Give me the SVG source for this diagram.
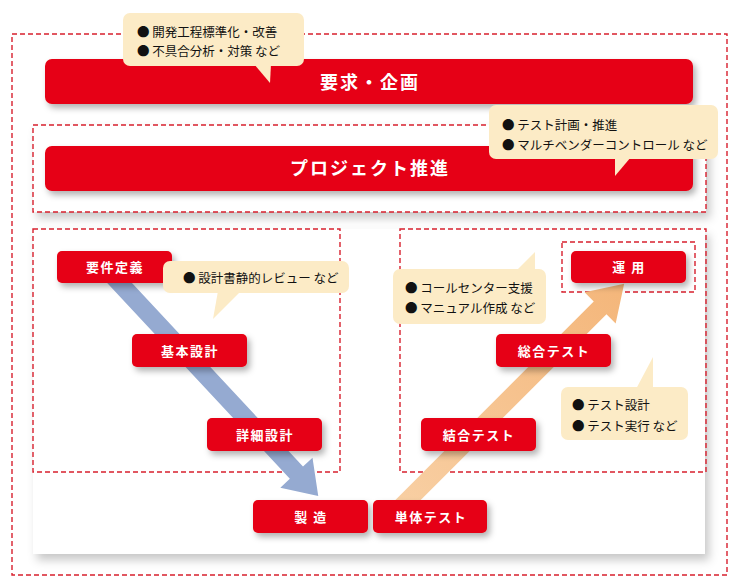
<svg xmlns="http://www.w3.org/2000/svg" width="740" height="586" viewBox="0 0 740 586">
<defs>
<style>
.dash{fill:none;stroke:#d7202e;stroke-width:1.4;stroke-dasharray:5 3}
.bar{fill:#e60012}
.node{fill:#e60012}
.bt{fill:#fff;font-family:"Noto Sans CJK JP","Noto Sans",sans-serif;font-weight:700;font-size:18px;letter-spacing:2px;text-anchor:middle}
.nt{fill:#fff;font-family:"Noto Sans CJK JP","Noto Sans",sans-serif;font-weight:700;font-size:13px;letter-spacing:1.5px;text-anchor:middle}
.call{fill:#fcebc6}
.ct{fill:#111;font-family:"Noto Sans CJK JP","Noto Sans",sans-serif;font-size:12.5px}
</style>
<filter id="sh" x="-20%" y="-30%" width="140%" height="180%">
<feDropShadow dx="3" dy="4" stdDeviation="3" flood-color="#000" flood-opacity="0.3"/>
</filter>
<filter id="psh" x="-10%" y="-20%" width="130%" height="150%">
<feDropShadow dx="4" dy="6" stdDeviation="5" flood-color="#000" flood-opacity="0.22"/>
</filter>
<linearGradient id="og" x1="0" y1="0" x2="1" y2="0">
<stop offset="0" stop-color="#f8cfa3"/>
<stop offset="1" stop-color="#f4b67a"/>
</linearGradient>
</defs>
<rect width="740" height="586" fill="#fff"/>
<g id="frame">
<rect class="dash" x="12" y="34" width="715" height="541"/>
<rect x="33" y="229" width="672" height="325" fill="#fff" filter="url(#psh)"/>
<rect x="33" y="125" width="673" height="87" fill="#fff" filter="url(#psh)"/>
<rect class="dash" x="33" y="125" width="673" height="87"/>
<rect class="dash" x="33" y="229" width="307" height="243"/>
<rect class="dash" x="400" y="229" width="306" height="243"/>
<rect class="dash" x="562" y="242" width="133" height="50"/>
</g>
<g id="bar-youkyu">
<rect class="bar" x="45" y="59" width="648" height="45" rx="7" filter="url(#sh)"/>
<text class="bt" x="370" y="89">要求・企画</text>
</g>
<g id="bar-project">
<rect class="bar" x="45" y="146" width="648" height="45" rx="7" filter="url(#sh)"/>
<text class="bt" x="370" y="175">プロジェクト推進</text>
</g>
<g id="connectors">
<polygon transform="translate(100,262) rotate(47)" fill="#95aad1" points="0,-9 288,-9 288,-22 320,0 288,22 288,9 0,9"/>
<polygon transform="translate(400,508) rotate(-45)" fill="url(#og)" points="0,-9 283,-9 283,-22 317,0 283,22 283,9 0,9"/>
</g>
<g id="n-youken"><rect class="node" x="57" y="251" width="115" height="32" rx="5" filter="url(#sh)"/><text class="nt" x="115" y="272">要件定義</text></g>
<g id="n-kihon"><rect class="node" x="132" y="334" width="115" height="33" rx="5" filter="url(#sh)"/><text class="nt" x="190" y="355.5">基本設計</text></g>
<g id="n-shousai"><rect class="node" x="207" y="418" width="115" height="33" rx="5" filter="url(#sh)"/><text class="nt" x="265" y="439.5">詳細設計</text></g>
<g id="n-seizou"><rect class="node" x="253" y="500" width="115" height="33" rx="5" filter="url(#sh)"/><text class="nt" x="311" y="521.5">製 造</text></g>
<g id="n-tantai"><rect class="node" x="373" y="500" width="114" height="33" rx="5" filter="url(#sh)"/><text class="nt" x="431" y="521.5">単体テスト</text></g>
<g id="n-ketsugou"><rect class="node" x="421" y="418" width="115" height="33" rx="5" filter="url(#sh)"/><text class="nt" x="479" y="439.5">結合テスト</text></g>
<g id="n-sougou"><rect class="node" x="496" y="334" width="115" height="33" rx="5" filter="url(#sh)"/><text class="nt" x="554" y="355.5">総合テスト</text></g>
<g id="n-unyou"><rect class="node" x="571" y="251" width="115" height="32" rx="5" filter="url(#sh)"/><text class="nt" x="629" y="272">運 用</text></g>
<g id="c1">
<rect class="call" x="123" y="13" width="181" height="53" rx="7"/>
<polygon class="call" points="254,64 271,64 270,83"/>
<text class="ct" x="137" y="36.5">● 開発工程標準化・改善</text>
<text class="ct" x="137" y="56">● 不具合分析・対策 など</text>
</g>
<g id="c2">
<rect class="call" x="489" y="105" width="229" height="54" rx="7"/>
<polygon class="call" points="615,157 631,157 615,176"/>
<text class="ct" x="502" y="129.5">● テスト計画・推進</text>
<text class="ct" x="502" y="149.5">● マルチベンダーコントロール など</text>
</g>
<g id="c3">
<rect class="call" x="163" y="261" width="186" height="32" rx="7"/>
<polygon class="call" points="218,291 241,291 213,319"/>
<text class="ct" x="183" y="282.5">● 設計書静的レビュー など</text>
</g>
<g id="c4">
<rect class="call" x="393" y="269" width="153" height="55" rx="7"/>
<polygon class="call" points="516,271 535,271 535,252"/>
<text class="ct" x="405" y="293">● コールセンター支援</text>
<text class="ct" x="405" y="313">● マニュアル作成 など</text>
</g>
<g id="c5">
<rect class="call" x="561" y="387" width="127" height="53" rx="7"/>
<polygon class="call" points="636,389 653,389 653,357"/>
<text class="ct" x="572" y="410">● テスト設計</text>
<text class="ct" x="572" y="431">● テスト実行 など</text>
</g>
</svg>
